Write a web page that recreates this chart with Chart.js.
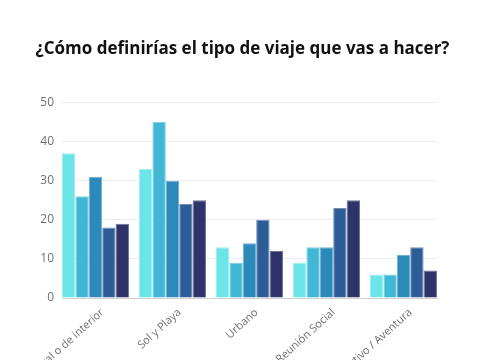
<!DOCTYPE html>
<html>
<head>
<meta charset="utf-8">
<script src="https://cdn.jsdelivr.net/npm/chart.js@4.4.0/dist/chart.umd.min.js"></script>
<style>
html,body{margin:0;padding:0;background:#fff;overflow:hidden;}
#wrap{width:485px;height:360px;position:relative;}
</style>
</head>
<body>
<div id="wrap"><canvas id="c" width="485" height="360"></canvas></div>
<script>
const titleText = "¿Cómo definirías el tipo de viaje que vas a hacer?";
const categories = ["Rural o de interior", "Sol y Playa", "Urbano", "Evento / Reunión Social", "Deportivo / Aventura"];
const series1 = [37, 33, 13, 9, 6];
const series2 = [26, 45, 9, 13, 6];
const series3 = [31, 30, 14, 13, 11];
const series4 = [18, 24, 20, 23, 13];
const series5 = [19, 25, 12, 25, 7];
const yTicks = [0, 10, 20, 30, 40, 50];

const colors = ["#6ce5e8", "#42b7d5", "#2b8aba", "#2c5d97", "#2e3369"];
const borders = ["#9cf0f1", "#7dcfe4", "#6fb0d2", "#7190b8", "#6f7396"];
const allSeries = [series1, series2, series3, series4, series5];

new Chart(document.getElementById('c'), {
  type: 'bar',
  data: {
    labels: categories,
    datasets: allSeries.map((d, i) => ({
      label: 'Serie ' + (i + 1),
      data: d,
      backgroundColor: colors[i],
      borderColor: borders[i],
      borderWidth: 1,
      categoryPercentage: 0.87,
      barPercentage: 1.0,
      yAxisID: 'y'
    }))
  },
  options: {
    responsive: false,
    animation: false,
    layout: { padding: 0 },
    plugins: {
      legend: { display: false },
      tooltip: { enabled: false },
      title: {
        display: true,
        text: titleText,
        color: '#111',
        font: { family: 'Open Sans', size: 17, weight: 'bold' },
        padding: { top: 39, bottom: 43 }
      }
    },
    scales: {
      x: {
        grid: { display: false, drawTicks: false },
        border: { display: true, color: '#d0d0d0' },
        ticks: {
          color: '#707070',
          font: { family: 'Open Sans', size: 11 },
          minRotation: 42,
          maxRotation: 42,
          padding: 8,
          labelOffset: 7
        },
        afterBuildTicks(scale) {
          const d = 5 / 77;
          scale._startValue = -0.5 + d;
          scale._valueRange = categories.length - 2 * d;
        },
        afterFit(scale) { scale.height = 62; }
      },
      y: {
        min: 0,
        max: 50,
        afterBuildTicks(scale) { scale.ticks = yTicks.map(v => ({ value: v })); },
        grid: { color: '#ececec', drawTicks: false },
        border: { display: false },
        ticks: {
          color: '#707070',
          font: { family: 'Open Sans', size: 12 },
          padding: 8
        },
        afterFit(scale) { scale.width = 62; }
      },
      yRight: {
        position: 'right',
        min: 0,
        max: 50,
        grid: { display: false, drawTicks: false },
        border: { display: false },
        ticks: { display: false },
        afterFit(scale) { scale.width = 48; }
      }
    }
  }
});
</script>
</body>
</html>
